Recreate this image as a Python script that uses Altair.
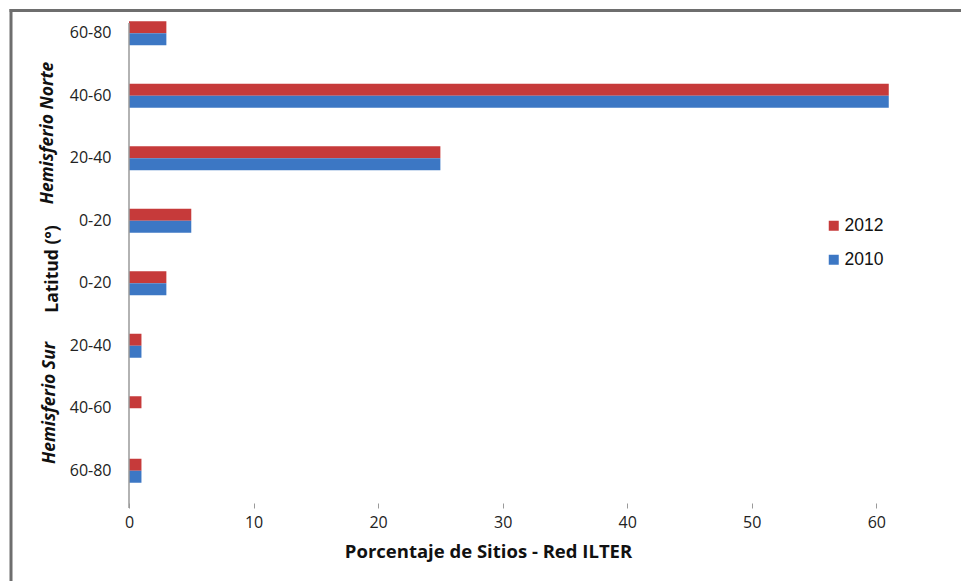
import altair as alt
import pandas as pd

categories = ["N 60-80", "N 40-60", "N 20-40", "N 0-20", "S 0-20", "S 20-40", "S 40-60", "S 60-80"]
v2012 = [3, 61, 25, 5, 3, 1, 1, 1]
v2010 = [3, 61, 25, 5, 3, 1, 0, 1]
years = ["2012", "2010"]
x_ticks = [0, 10, 20, 30, 40, 50, 60]

rows = []
for c, a, b in zip(categories, v2012, v2010):
    rows.append({"cat": c, "year": "2012", "value": a})
    rows.append({"cat": c, "year": "2010", "value": b})
df = pd.DataFrame(rows)

FONT = "Open Sans"

bars = alt.Chart(df).mark_bar().encode(
    x=alt.X("value:Q",
            scale=alt.Scale(domain=[0, 66.8], nice=False, zero=True),
            axis=alt.Axis(values=x_ticks, grid=False, domain=False, ticks=True, tickSize=5,
                          tickColor="#9a9a9a", offset=1, labelFontSize=16, labelFont=FONT,
                          labelColor="#222222", labelPadding=6, labelFlush=False,
                          title="Porcentaje de Sitios - Red ILTER", titleFont=FONT,
                          titleFontSize=18.5, titleFontWeight="bold", titleColor="#111111",
                          titlePadding=12, titleX=359, titleAlign="center", titleAnchor="start")),
    y=alt.Y("cat:N", sort=categories,
            scale=alt.Scale(paddingInner=0.616, paddingOuter=0.308),
            axis=alt.Axis(title=None, domain=False, ticks=False, tickSize=0, labelPadding=18,
                          labelFontSize=16, labelFont=FONT, labelColor="#222222",
                          labelExpr="slice(datum.label, 2)")),
    yOffset=alt.YOffset("year:N", sort=years, scale=alt.Scale(paddingInner=0, paddingOuter=0)),
    color=alt.Color("year:N",
                    scale=alt.Scale(domain=years, range=["#C63A3A", "#3C77C4"]),
                    legend=alt.Legend(title=None, orient="none", legendX=696, legendY=215,
                                      symbolType="square", symbolSize=100, symbolStrokeWidth=0,
                                      labelFont="Liberation Sans", labelFontSize=17.5,
                                      labelColor="#111111", labelOffset=2, rowPadding=15,
                                      padding=0)),
)

yline = alt.Chart(pd.DataFrame({"a": [0]})).mark_rule(color="#9a9a9a", strokeWidth=1.5).encode(
    x=alt.value(0), y=alt.value(21), y2=alt.value(506)
)

frame_left = alt.Chart(pd.DataFrame({"a": [0]})).mark_rule(
    color="#6e6e6e", strokeWidth=3, clip=False
).encode(x=alt.value(-118), y=alt.value(7), y2=alt.value(600))

frame_top = alt.Chart(pd.DataFrame({"a": [0]})).mark_rule(
    color="#6e6e6e", strokeWidth=3, clip=False
).encode(x=alt.value(-119.5), x2=alt.value(900), y=alt.value(8.5))

ann = pd.DataFrame({
    "label": ["Hemisferio Norte", "Latitud (°)", "Hemisferio Sur"],
    "px": [-81, -76, -79],
    "py": [131, 267, 401],
    "style": ["italic", "normal", "italic"],
})

def ann_text(i):
    r = ann.iloc[i]
    return alt.Chart(ann.iloc[[i]]).mark_text(
        angle=270, font=FONT, fontSize=17.5, fontWeight="bold", fontStyle=r["style"],
        color="#111111", align="center", baseline="middle"
    ).encode(text="label:N", x=alt.value(float(r["px"])), y=alt.value(float(r["py"])))

chart = alt.layer(frame_left, frame_top, bars, yline, ann_text(0), ann_text(1), ann_text(2)).properties(
    width=832, height=500,
    background="white",
    autosize=alt.AutoSizeParams(type="none"),
    padding={"left": 129, "top": 2, "right": 0, "bottom": 79},
).configure_view(stroke=None)

chart.save("out.html", embed_options={"renderer": "svg", "actions": False})
